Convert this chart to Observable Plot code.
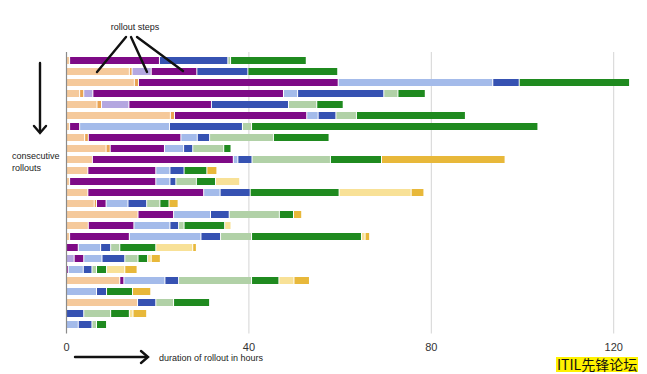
<!DOCTYPE html>
<html><head><meta charset="utf-8">
<script src="https://cdn.jsdelivr.net/npm/d3@7"></script>
<script src="https://cdn.jsdelivr.net/npm/@observablehq/plot@0.6"></script>
<style>
body{margin:0;background:#fff;}
#wrap{position:relative;width:647px;height:374px;overflow:hidden;font-family:"Liberation Sans",Arial,sans-serif;background:#fff;}
#wrap svg.overlay{position:absolute;left:0;top:0;}
#wm{position:absolute;left:556px;top:357px;font:14px "Noto Sans CJK SC","Liberation Sans",sans-serif;color:#111;background:#fff200;line-height:15px;padding:0 1px;white-space:nowrap;}
</style></head><body><div id="wrap"></div>
<script>
// Rollout steps (stack order) and their colours
const steps = ["prep","prep2","lightPurple","purple","lightBlue","blue","lightGreen","green","lightYellow","yellow"];
const stepColors = ["#f5c99b","#e9a352","#b4a7e0","#7e0a86","#a4bbea","#3652b2","#b1d1a7","#1f8a1f","#f8e197","#e8b83a"];
const xTicks = [0, 40, 80, 120];
const rollouts = d3.range(1, 26);

// durations in hours per rollout (25 rollouts, top to bottom)
const prep        = [0.9,14.0,15.1,3.1,6.9,23.0,0.9,4.2,8.9,5.9,4.9,0.9,4.9,6.3,15.9,5.0,0.9,0,0,0,11.9,0,15.8,0,0];
const prep2       = [0,0.6,0.9,0.9,1.0,0.9,0,0.8,0.9,0,0,0,0,0.5,0,0,0,0,0,0,0,0,0,0,0];
const lightPurple = [0,4.2,0,2.0,6.0,0,0,0,0,0,0,0,0,0,0,0,0,0,1.9,0,0,0,0,0,0];
const purple      = [19.7,10.0,43.8,41.8,18.1,29.0,2.2,20.3,11.9,30.9,14.9,18.9,25.4,2.1,7.8,10.0,13.1,2.8,2.1,0.6,0.9,0,0,0,0];
const lightBlue   = [0,0,33.9,3.1,0,2.5,19.7,3.6,4.2,1.0,3.1,3.1,3.6,4.8,8.1,7.9,15.7,4.9,4.0,3.3,9.0,6.8,0,0,2.8];
const blue        = [15.0,11.2,5.8,18.9,16.9,3.9,16.0,2.7,2.0,3.1,3.1,1.3,6.6,4.1,4.1,1.9,4.3,2.2,5.0,1.9,3.0,2.2,4.0,4.0,3.0];
const lightGreen  = [0.6,0,0,3.1,6.2,4.5,2.0,14.0,6.8,17.2,0,4.5,0,2.9,11.0,1.2,6.8,2.0,2.9,1.0,16.0,0,3.9,5.9,1.0];
const green       = [16.6,19.7,24.2,6.0,5.8,23.9,62.8,12.2,1.6,11.2,5.0,4.2,19.5,2.0,3.1,8.9,24.1,7.9,2.1,2.2,6.0,5.7,7.9,4.1,2.2];
const lightYellow = [0,0,0,0,0,0,0,0,0,0,0,5.3,15.8,0,0,1.4,0.8,8.1,0.8,4.0,3.3,0,0,0.8,0];
const yellow      = [0,0,0,0,0,0,0,0,0,27.1,2.2,0,2.8,2.0,1.8,0,1.0,0.8,2.0,2.7,3.4,4.0,0,3.0,0];

const series = [prep, prep2, lightPurple, purple, lightBlue, blue, lightGreen, green, lightYellow, yellow];
const rows = [];
rollouts.forEach((r, i) => {
  steps.forEach((s, j) => {
    if (series[j][i] > 0) rows.push({rollout: r, step: s, hours: series[j][i]});
  });
});

const chart = Plot.plot({
  width: 647,
  height: 374,
  marginLeft: 66,
  marginRight: 11,
  marginTop: 52,
  marginBottom: 40.5,
  style: {fontFamily: "Liberation Sans, Arial, sans-serif", fontSize: "11px", color: "#444", background: "#fff"},
  x: {domain: [0, 125], ticks: xTicks, label: null},
  y: {domain: rollouts, padding: 0.35, axis: null},
  color: {domain: steps, range: stepColors},
  marks: [
    Plot.gridX(xTicks.filter(d => d > 0), {stroke: "#d4d4d4", strokeOpacity: 1}),
    Plot.barX(rows, {x: "hours", y: "rollout", fill: "step", insetRight: 1}),
    Plot.ruleX([0], {stroke: "#8a8a8a", strokeWidth: 1.2}),
    Plot.axisX({ticks: xTicks, tickSize: 0, tickPadding: 9, label: null, fill: "#333"})
  ]
});
const wrap = document.getElementById("wrap");
wrap.appendChild(chart);

// annotation overlay
const ov = d3.create("svg").attr("class", "overlay").attr("width", 647).attr("height", 374)
  .style("font-family", "Liberation Sans, Arial, sans-serif");
ov.append("text").attr("x", 135).attr("y", 30).attr("text-anchor", "middle").attr("font-size", 9).attr("fill", "#222").text("rollout steps");
const ann = ov.append("g").attr("stroke", "#111").attr("stroke-width", 2.4).attr("fill", "none").attr("stroke-linecap", "round");
ann.append("line").attr("x1", 126).attr("y1", 37).attr("x2", 97).attr("y2", 72);
ann.append("line").attr("x1", 131).attr("y1", 37).attr("x2", 147).attr("y2", 72);
ann.append("line").attr("x1", 137).attr("y1", 37).attr("x2", 183).attr("y2", 71);
ann.append("line").attr("x1", 40).attr("y1", 63).attr("x2", 40).attr("y2", 132);
ann.append("polyline").attr("points", "34,126 40,133 46,126");
ann.append("line").attr("x1", 75).attr("y1", 357).attr("x2", 147).attr("y2", 357);
ann.append("polyline").attr("points", "141,351 148,357 141,363");
ov.append("text").attr("x", 12).attr("y", 159).attr("font-size", 9).attr("fill", "#222").text("consecutive");
ov.append("text").attr("x", 12).attr("y", 171).attr("font-size", 9).attr("fill", "#222").text("rollouts");
ov.append("text").attr("x", 159).attr("y", 361).attr("font-size", 9).attr("fill", "#222").text("duration of rollout in hours");
wrap.appendChild(ov.node());

const wm = document.createElement("div");
wm.id = "wm";
wm.textContent = "ITIL先锋论坛";
wrap.appendChild(wm);
</script>
</body></html>
